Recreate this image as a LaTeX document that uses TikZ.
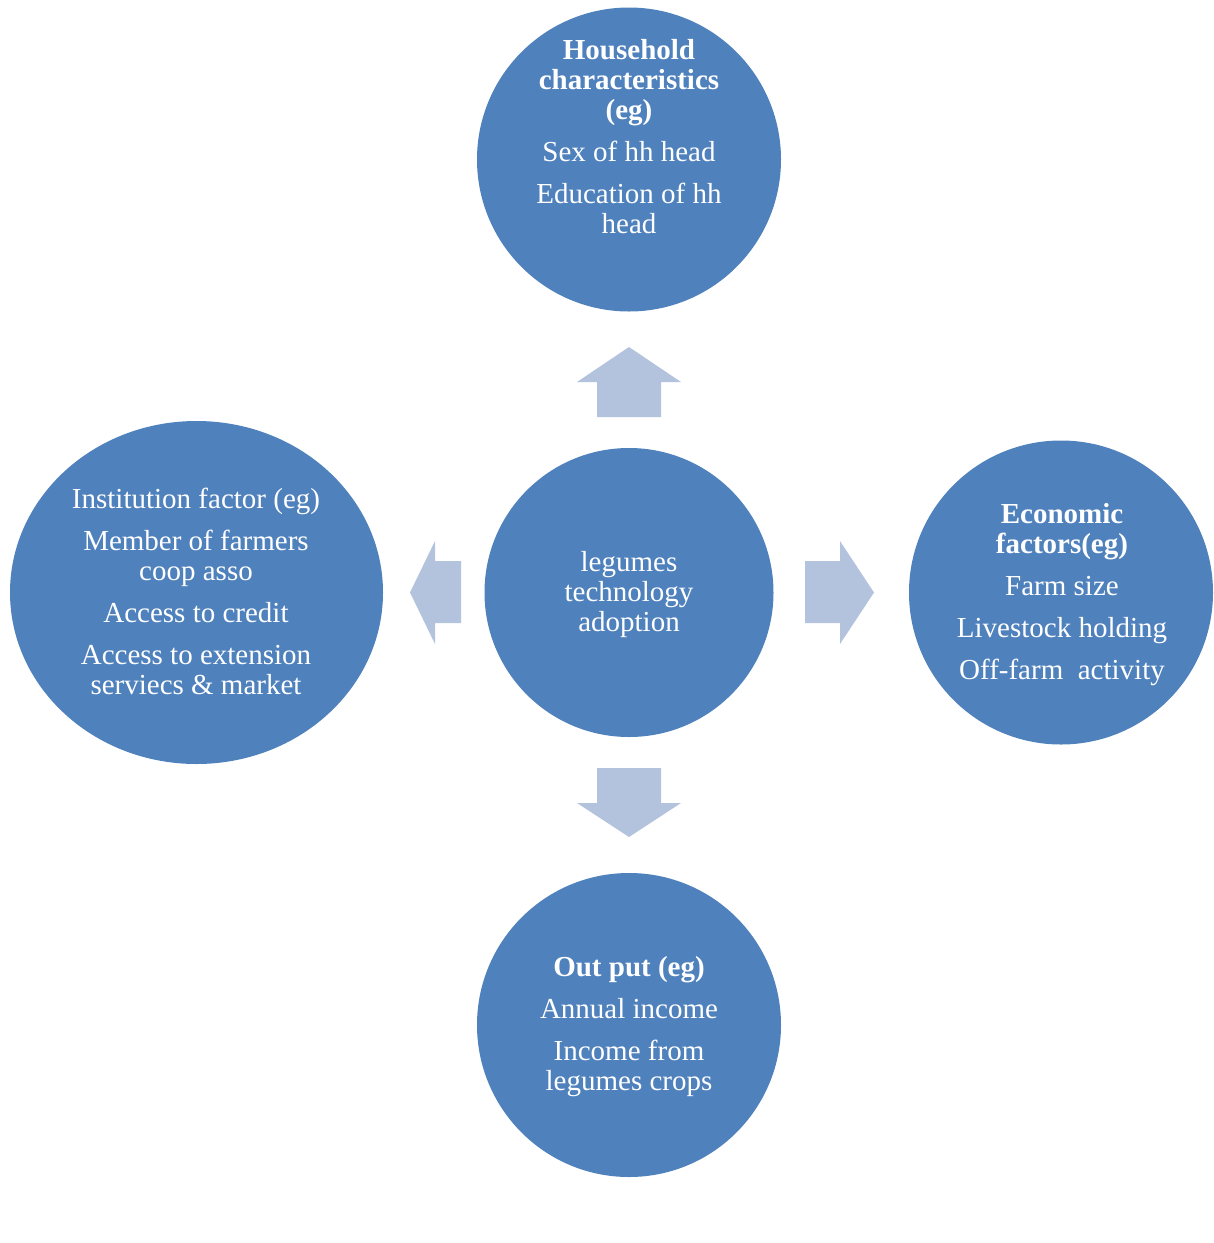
\documentclass[tikz,border=0pt]{standalone}
\usepackage{fontspec}
\setmainfont{Liberation Serif}
\usepackage{tikz}
\usetikzlibrary{shapes.geometric}
\definecolor{bubbleblue}{RGB}{79,129,189}
\definecolor{arrowblue}{RGB}{179,195,222}
\tikzset{
    bubble/.style={circle, fill=bubbleblue, inner sep=0pt, outer sep=0pt},
    bubbletext/.style={align=center, text=white, anchor=base, inner sep=0pt,
        font=\fontsize{29bp}{30bp}\selectfont},
    blockarrow/.style={fill=arrowblue}
}
\begin{document}
\begin{tikzpicture}[x=1bp, y=-1bp]
            \useasboundingbox (0,0) rectangle (1214,1243);

            % 1. Bubbles
            \node[bubble, minimum size=289bp] (hub) at (629,592.5) {};
            \node[bubble, minimum size=304bp] (household) at (629,159.5) {};
            \node[bubble, minimum size=304bp] (economic) at (1061,592.5) {};
            \node[bubble, minimum size=304bp] (output) at (629,1025) {};
            \node[bubble, ellipse, minimum width=373bp, minimum height=343bp] (institution) at (196.5,592.5) {};

            % 2. Block arrows out of the hub
            \fill[blockarrow] (597,417) -- (597,382) -- (577,382) -- (629,347)
                -- (681,382) -- (661,382) -- (661,417) -- cycle;
            \fill[blockarrow] (597,768) -- (597,803) -- (577,803) -- (629,837)
                -- (681,803) -- (661,803) -- (661,768) -- cycle;
            \fill[blockarrow] (461,561) -- (435,561) -- (435,541) -- (410,592.5)
                -- (435,644) -- (435,623) -- (461,623) -- cycle;
            \fill[blockarrow] (805,561) -- (840,561) -- (840,541) -- (874,592.5)
                -- (840,644) -- (840,623) -- (805,623) -- cycle;

            % 3. Texts (anchored on the last line)
            \node[bubbletext] (hubtext) at (629,631) {legumes\\technology\\adoption};
            \node[bubbletext] (householdtext) at (629,233)
                {\textbf{Household}\\\textbf{characteristics}\\\textbf{(eg)}\\[12bp]
                 Sex of hh head\\[12bp]Education of hh\\head};
            \node[bubbletext] (institutiontext) at (196,694)
                {Institution factor (eg)\\[12bp]Member of farmers\\coop asso\\[12bp]
                 Access to credit\\[12bp]Access to extension\\serviecs \& market};
            \node[bubbletext] (economictext) at (1062,679)
                {\textbf{Economic}\\\textbf{factors(eg)}\\[12bp]Farm size\\[12bp]
                 Livestock holding\\[12bp]Off-farm\ \ activity};
            \node[bubbletext] (outputtext) at (629,1090)
                {\textbf{Out put (eg)}\\[12bp]Annual income\\[12bp]Income from\\legumes crops};
        \end{tikzpicture}
\end{document}
